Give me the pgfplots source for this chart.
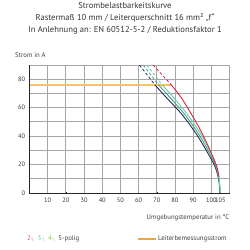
\documentclass[border=0pt]{standalone}
\usepackage{pgfplots}
\pgfplotsset{compat=1.18}
\usepackage{fontspec}
\setmainfont{PT Sans}
\definecolor{cred}{HTML}{D7263D}
\definecolor{cteal}{HTML}{6CC7B0}
\definecolor{cgreen}{HTML}{3FA57A}
\definecolor{cnavy}{HTML}{23285E}
\definecolor{corange}{HTML}{F0A830}
\definecolor{cline}{HTML}{F5C560}
\begin{document}
\begin{tikzpicture}
\begin{axis}[
  at={(0,0)}, anchor=south west,
  scale only axis, width=200bp, height=128bp,
  xmin=0, xmax=110, ymin=0, ymax=90,
  axis lines=left, axis line style={-, black!85, line width=0.8pt},
  xtick={10,20,...,100,105}, xticklabels={10,20,30,40,50,60,70,80,90,100,105},
  ytick={0,10,...,80}, yticklabels={0,,20,,40,,60,,80},
  minor x tick num=4, minor y tick num=4,
  tick style={black!85, line width=0.4pt}, major tick length=2pt, minor tick length=1.3pt,
  tick label style={font=\fontsize{6.4}{7}\selectfont, text=black!80},
  /pgf/number format/assume math mode=true,
  clip=false,
]
\coordinate (O) at (rel axis cs:0,0);
\addplot[black!35, line width=0.9pt, forget plot] coordinates {(10,0) (10,90)};
\addplot[black!35, line width=0.9pt, forget plot] coordinates {(20,0) (20,90)};
\addplot[black!35, line width=0.9pt, forget plot] coordinates {(30,0) (30,90)};
\addplot[black!35, line width=0.9pt, forget plot] coordinates {(40,0) (40,90)};
\addplot[black!35, line width=0.9pt, forget plot] coordinates {(50,0) (50,90)};
\addplot[black!35, line width=0.9pt, forget plot] coordinates {(60,0) (60,90)};
\addplot[black!35, line width=0.9pt, forget plot] coordinates {(70,0) (70,90)};
\addplot[black!35, line width=0.9pt, forget plot] coordinates {(80,0) (80,90)};
\addplot[black!35, line width=0.9pt, forget plot] coordinates {(90,0) (90,90)};
\addplot[black!35, line width=0.9pt, forget plot] coordinates {(100,0) (100,90)};
\addplot[black!35, line width=0.9pt, forget plot] coordinates {(110,0) (110,90)};
\addplot[black!35, line width=0.9pt, forget plot] coordinates {(0,10) (110,10)};
\addplot[black!35, line width=0.9pt, forget plot] coordinates {(0,20) (110,20)};
\addplot[black!35, line width=0.9pt, forget plot] coordinates {(0,30) (110,30)};
\addplot[black!35, line width=0.9pt, forget plot] coordinates {(0,40) (110,40)};
\addplot[black!35, line width=0.9pt, forget plot] coordinates {(0,50) (110,50)};
\addplot[black!35, line width=0.9pt, forget plot] coordinates {(0,60) (110,60)};
\addplot[black!35, line width=0.9pt, forget plot] coordinates {(0,70) (110,70)};
\addplot[black!35, line width=0.9pt, forget plot] coordinates {(0,80) (110,80)};
\addplot[black!35, line width=0.9pt, forget plot] coordinates {(0,90) (110,90)};
\addplot[cline, line width=1.6pt] coordinates {(0,76) (78,76)};
% dashed parts
\addplot[cnavy, densely dashed, line width=0.8pt] coordinates {(60.5,90) (69,76)};
\addplot[cgreen, densely dashed, line width=0.8pt] coordinates {(62.5,90) (71,76)};
\addplot[cteal, densely dashed, line width=0.8pt] coordinates {(64.5,90) (73,76)};
\addplot[cred, densely dashed, line width=0.8pt] coordinates {(68,90) (78,76)};
% solid parts
\addplot[cnavy, line width=0.9pt, smooth] coordinates {(69,76) (75,67.5) (84,55) (92,41) (99,26) (102.2,18) (103.8,11) (104.5,5) (104.7,0)};
\addplot[cgreen, line width=0.9pt, smooth] coordinates {(71,76) (77,67.5) (85.5,55) (93,41.5) (99.5,27) (102.5,18.5) (104,11) (104.6,5) (104.8,0)};
\addplot[cteal, line width=0.9pt, smooth] coordinates {(73,76) (79,67.5) (87,55) (94,42) (100,27.5) (102.8,19) (104.1,11.5) (104.7,5) (104.9,0)};
\addplot[cred, line width=0.9pt, smooth] coordinates {(78,76) (83.5,67) (89,55.5) (93.7,45) (99,31) (102.9,19) (104.3,11)};
\end{axis}
\begin{scope}[every node/.style={font=\fontsize{6.8}{7}\selectfont, text=black!75, inner sep=0pt}]
\node[anchor=west] at ([shift={(-14.5bp,138bp)}]O) {Strom in A};
\node[anchor=east] at ([shift={(200bp,-25bp)}]O) {Umgebungstemperatur in °C};
\node[anchor=west] at ([shift={(-2.5bp,-46bp)}]O) {\textcolor{cred!75}{2-,}\ \ \textcolor{cteal}{3-,}\ \ \textcolor{cgreen!60!yellow}{4-,}\ \ 5-polig};
\draw[corange, line width=1.2pt] ([shift={(108.5bp,-46bp)}]O) -- ++(18bp,0);
\node[anchor=west] at ([shift={(128.5bp,-46bp)}]O) {Leiterbemessungsstrom};
\end{scope}
\begin{scope}[every node/.style={font=\fontsize{8.6}{10}\selectfont, text=black!80, inner sep=0pt}]
\node at ([shift={(95.5bp,187bp)}]O) {Strombelastbarkeitskurve};
\node at ([shift={(95.5bp,175bp)}]O) {Rastermaß 10 mm / Leiterquerschnitt 16 mm² „f“};
\node at ([shift={(95.5bp,162.5bp)}]O) {In Anlehnung an: EN 60512-5-2 / Reduktionsfaktor 1};
\end{scope}
\pgfresetboundingbox
\path ([shift={(-29.5bp,-57bp)}]O) rectangle ([shift={(220.5bp,193bp)}]O);
\end{tikzpicture}
\end{document}
